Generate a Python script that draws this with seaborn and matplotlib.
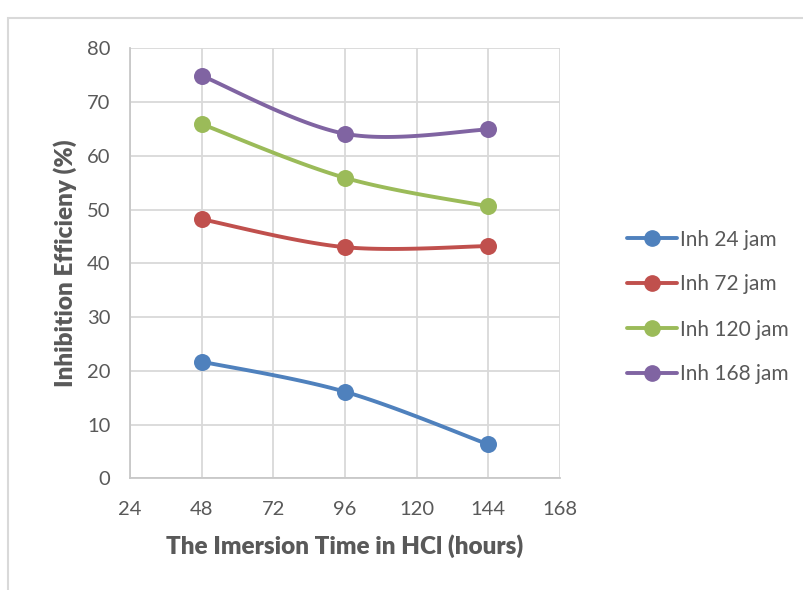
import numpy as np
import pandas as pd
import matplotlib
matplotlib.use("Agg")
import matplotlib.pyplot as plt
import seaborn as sns
from matplotlib.patches import Rectangle
from matplotlib.lines import Line2D

# ---- data ----
hours = [48, 96, 144]
series_names = ["Inh 24 jam", "Inh 72 jam", "Inh 120 jam", "Inh 168 jam"]
inh_24 = [21.7, 16.1, 6.3]
inh_72 = [48.2, 43.0, 43.2]
inh_120 = [65.9, 55.9, 50.6]
inh_168 = [74.9, 64.1, 64.9]
x_ticks = [24, 48, 72, 96, 120, 144, 168]
y_ticks = [0, 10, 20, 30, 40, 50, 60, 70, 80]
colors = ["#4F81BD", "#C0504D", "#9BBB59", "#8064A2"]

sns.set_theme(style="white")
plt.rcParams["font.family"] = ["Lato", "DejaVu Sans"]

fig = plt.figure(figsize=(8.04, 5.90), dpi=100)
W, H = 804, 590
ax = fig.add_axes([130 / W, 1 - 478.3 / H, 430 / W, 430 / H])

# chart border (Excel chart area)
fig.patches.append(Rectangle((8 / W, -0.1), 1.2, 1 - 17.5 / H + 0.1,
                             transform=fig.transFigure, fill=False,
                             edgecolor="#D9D9D9", linewidth=1.5))


def smooth(xs, ys, n=40):
    """Excel-like smoothed line: Catmull-Rom cubic Bezier through points."""
    P = np.column_stack([xs, ys]).astype(float)
    P_ext = np.vstack([P[0], P, P[-1]])
    out = []
    t = np.linspace(0, 1, n)
    for i in range(1, len(P_ext) - 2):
        p0, p1, p2, p3 = P_ext[i - 1], P_ext[i], P_ext[i + 1], P_ext[i + 2]
        c1 = p1 + (p2 - p0) / 6.0
        c2 = p2 - (p3 - p1) / 6.0
        seg = ((1 - t) ** 3)[:, None] * p1 + (3 * (1 - t) ** 2 * t)[:, None] * c1 \
            + (3 * (1 - t) * t ** 2)[:, None] * c2 + (t ** 3)[:, None] * p2
        out.append(seg if i == 1 else seg[1:])
    return np.vstack(out)


all_vals = [inh_24, inh_72, inh_120, inh_168]
for name, vals, c in zip(series_names, all_vals, colors):
    curve = smooth(hours, vals)
    sns.lineplot(x=curve[:, 0], y=curve[:, 1], ax=ax, color=c, lw=2.8,
                 sort=False, estimator=None, zorder=3)
    sns.scatterplot(x=hours, y=vals, ax=ax, color=c, s=150, edgecolor=c,
                    linewidth=0, zorder=4)

ax.set_xlim(24, 168)
ax.set_ylim(0, 80)
ax.set_xticks(x_ticks)
ax.set_yticks(y_ticks)
ax.grid(True, color="#D9D9D9", linewidth=1.3)
ax.set_axisbelow(True)
for s in ["top", "right"]:
    ax.spines[s].set_visible(False)
for s in ["left", "bottom"]:
    ax.spines[s].set_color("#C8C8C8")
    ax.spines[s].set_linewidth(1.3)
ax.tick_params(axis="both", length=0, labelsize=14.5, labelcolor="#595959")
ax.tick_params(axis="x", pad=16)
ax.tick_params(axis="y", pad=14)
ax.set_xlabel("The Imersion Time in HCl (hours)", fontsize=17.5,
              fontweight="heavy", color="#595959", labelpad=12)
ax.set_ylabel("Inhibition Efficieny (%)", fontsize=17.5,
              fontweight="heavy", color="#595959", labelpad=7)

handles = [Line2D([0], [0], color=c, lw=2.8, marker="o", markersize=11)
           for c in colors]
fig.legend(handles, series_names, loc="center left",
           bbox_to_anchor=(608 / W, 1 - 307 / H), frameon=False,
           fontsize=15, labelcolor="#595959", handlelength=2.4,
           handletextpad=0.15, labelspacing=1.2)

fig.savefig("out.png", dpi=100)
